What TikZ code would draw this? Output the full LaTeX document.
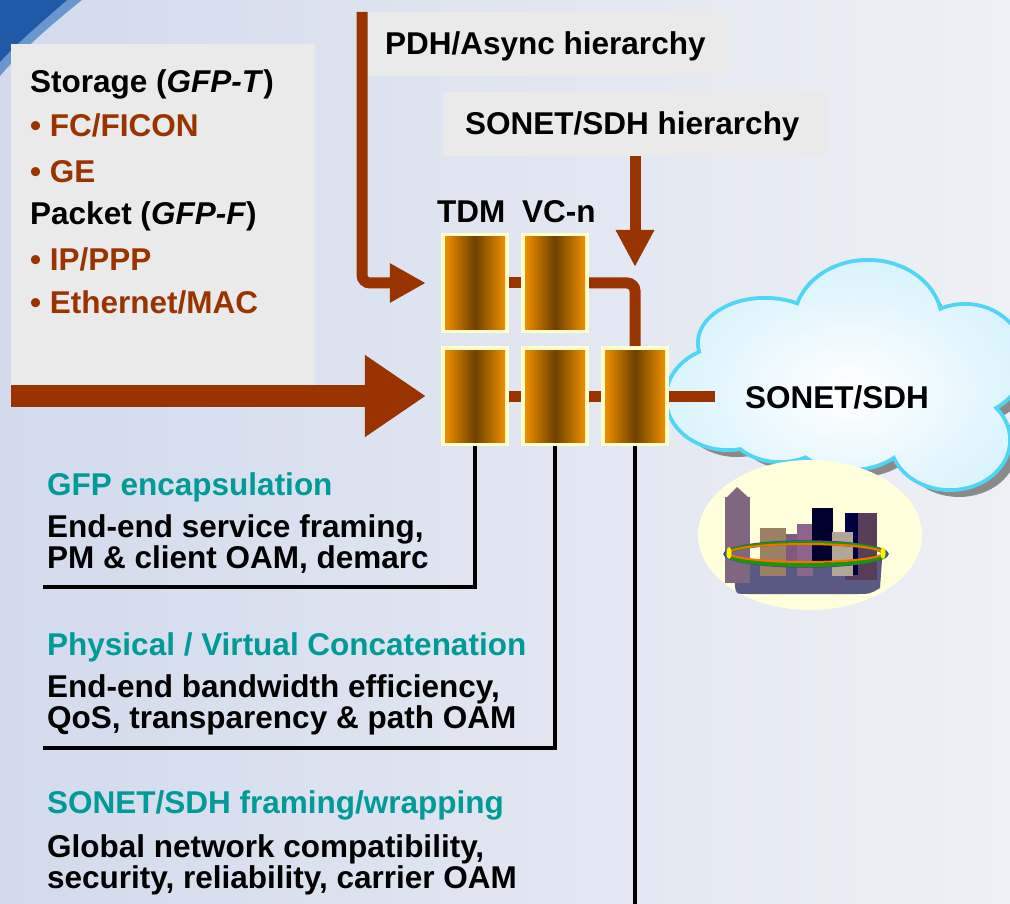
\documentclass[tikz,border=0pt]{standalone}
\usepackage{fontspec}
\setmainfont{Liberation Sans}
\usetikzlibrary{arrows.meta}

\definecolor{rust}{HTML}{993300}
\definecolor{teal}{HTML}{009B96}
\definecolor{panelgrey}{HTML}{EAEAEA}
\definecolor{bgL}{HTML}{D2DAEC}
\definecolor{bgR}{HTML}{EEF0F5}
\definecolor{rim}{HTML}{FFFFCC}
\definecolor{amber}{HTML}{FF9900}
\definecolor{umber}{HTML}{6E4200}
\definecolor{cloudedge}{HTML}{4FD6F6}
\definecolor{cloudfill}{HTML}{D3F1FC}
\definecolor{cloudshadow}{HTML}{8A8A8A}
\definecolor{halo}{HTML}{FFFFDC}
\definecolor{swoopdark}{HTML}{1E5AA5}
\definecolor{swooplight}{HTML}{6A96CF}

\newcommand\lblfont{\fontsize{31.5}{36}\selectfont\bfseries}

\tikzset{
  lbl/.style={font=\lblfont, inner sep=0pt, anchor=base west},
  panel/.style={fill=panelgrey, draw=none, inner sep=0pt},
  pipe/.style={draw=rust, line width=11pt},
  wire/.style={draw=black, line width=4pt},
  procbox/.style={minimum width=68pt, minimum height=100pt, inner sep=0pt, fill=rim,
    path picture={\shade[left color=amber, right color=amber, middle color=umber]
      ([shift={(4pt,4pt)}]path picture bounding box.south west) rectangle
      ([shift={(-4pt,-4pt)}]path picture bounding box.north east);}},
}

\begin{document}
\begin{tikzpicture}[x=1pt,y=-1pt]
\useasboundingbox (0,0) rectangle (1010,904);

% backdrop and corner swoosh
\shade[left color=bgL, right color=bgR] (0,0) rectangle (1010,904);
\fill[swooplight] (0,0) -- (82,0) .. controls (52,24) and (22,50) .. (0,76) -- cycle;
\fill[swoopdark] (0,0) -- (67,0) .. controls (42,22) and (18,42) .. (0,62) -- cycle;

% grey panels
\node[panel, minimum width=304pt, minimum height=341pt] (clients) at (163,214.5) {};
\node[panel, minimum width=374pt, minimum height=64pt] (pdhpanel) at (544,44) {};
\node[panel, minimum width=384pt, minimum height=64pt] (sdhpanel) at (635,124) {};

% client list
\node[lbl] (storage) at (30,93) {Storage (\textit{GFP-T})};
\node[lbl, text=rust] (fc) at (30,137) {\textbullet\ FC/FICON};
\node[lbl, text=rust] (ge) at (30,183) {\textbullet\ GE};
\node[lbl] (packet) at (30,225) {Packet (\textit{GFP-F})};
\node[lbl, text=rust] (ip) at (30,271) {\textbullet\ IP/PPP};
\node[lbl, text=rust] (eth) at (30,313) {\textbullet\ Ethernet/MAC};

\node[lbl] (pdh) at (385,55) {PDH/Async hierarchy};
\node[lbl] (sdhhier) at (465,135) {SONET/SDH hierarchy};

% cloud: shadow, rim, body
\def\lobes{728/398/60/50, 765/343/65/43, 868/322/72/60, 965/360/58/54,
  950/440/58/48, 850/428/60/40, 780/425/50/35, 850/385/90/70}
\foreach \cx/\cy/\rx/\ry in \lobes
  \fill[cloudshadow] (\cx+9,\cy+9) ellipse [x radius=\rx, y radius=\ry];
\foreach \cx/\cy/\rx/\ry in \lobes
  \draw[cloudedge, line width=8pt] (\cx,\cy) ellipse [x radius=\rx, y radius=\ry];
\foreach \cx/\cy/\rx/\ry in \lobes
  \fill[cloudfill] (\cx,\cy) ellipse [x radius=\rx, y radius=\ry];
\begin{scope}
  \clip \foreach \cx/\cy/\rx/\ry in \lobes { (\cx,\cy) ellipse [x radius=\rx, y radius=\ry] };
  \shade[inner color=white, outer color=cloudfill] (850,392) ellipse [x radius=215, y radius=150];
\end{scope}
\node[lbl] (net) at (745,408) {SONET/SDH};

% city in its halo
\fill[halo] (810,535) ellipse [x radius=112, y radius=75];
\fill[color=black!45!blue!30!gray] (733,560) -- (882,560) -- (880,588)
  .. controls (870,594) .. (855,594) -- (748,594) .. controls (736,594) .. (735,586) -- cycle;
\fill[color=gray!80!violet] (725,497) rectangle (750,583);
\fill[color=gray!80!violet] (727,497) -- (737,487) -- (748,497) -- cycle;
\fill[color=gray!60!black!80!violet] (845,513) rectangle (877,580);
\fill[color=black!75!blue] (845,513) rectangle (858,575);
\fill[color=brown!45!gray] (760,528) rectangle (786,576);
\fill[color=gray!70!violet] (786,534) rectangle (798,566);
\fill[color=gray!65!violet!90!white] (797,524) rectangle (813,576);
\fill[color=black!82!blue] (812,508) rectangle (833,566);
\fill[color=brown!30!gray!70!white] (832,532) rectangle (853,576);
\draw[color=blue!50!gray, line width=1.5pt] (806,554) ellipse [x radius=82, y radius=13];
\draw[color=green!55!black!90!yellow, line width=4pt] (806,554) ellipse [x radius=79, y radius=11];
\draw[color=orange!85!red, line width=2pt] (806,553) ellipse [x radius=77, y radius=9];
\fill[yellow] (729,553) ellipse [x radius=2.5, y radius=6];
\fill[yellow] (883,553) ellipse [x radius=2.5, y radius=6];

% multiplexing stages
\node[lbl] (tdmlbl) at (437,223) {TDM};
\node[lbl] (vclbl) at (522,223) {VC-n};
\node[procbox] (tdmA) at (475,283) {};
\node[procbox] (vcA) at (555,283) {};
\node[procbox] (tdmB) at (475,396) {};
\node[procbox] (vcB) at (555,396) {};
\node[procbox] (sdhB) at (635,396) {};

\coordinate (pdhtop) at (362,12);
\coordinate (feed) at (11,396);
\coordinate (sdhdrop) at (635,267);
\coordinate (cloudin) at (715,396);
\coordinate (gfpend) at (43,587);
\coordinate (vcatend) at (43,748);
\coordinate (frameend) at (635,904);

% brown data paths
\draw[pipe, rounded corners=8pt, -{Triangle[length=36pt,width=37pt]}]
  (pdhtop) |- ([xshift=-15pt]tdmA.west);
\draw[pipe, line width=22pt, -{Triangle[length=61pt,width=78pt]}]
  (feed) -- ([xshift=-15pt]tdmB.west);
\draw[pipe, -{Triangle[length=37pt,width=36pt]}] (sdhpanel.south) -- (sdhdrop);
\draw[pipe] (tdmA.east) -- (vcA.west);
\draw[pipe, rounded corners=8pt] (vcA.east) -| (sdhB.north);
\draw[pipe] (tdmB.east) -- (vcB.west);
\draw[pipe] (vcB.east) -- (sdhB.west);
\draw[pipe] (sdhB.east) -- (cloudin);

% leader lines to the function notes
\draw[wire] (tdmB.south) |- (gfpend);
\draw[wire] (vcB.south) |- (vcatend);
\draw[wire] (sdhB.south) -- (frameend);

% function notes
\node[lbl, text=teal] (gfp) at (47,495) {GFP encapsulation};
\node[lbl] (gfpa) at (47,537) {End-end service framing,};
\node[lbl] (gfpb) at (47,568) {PM \& client OAM, demarc};
\node[lbl, text=teal] (vcat) at (47,655) {Physical / Virtual Concatenation};
\node[lbl] (vcata) at (47,697) {End-end bandwidth efficiency,};
\node[lbl] (vcatb) at (47,728) {QoS, transparency \& path OAM};
\node[lbl, text=teal] (frame) at (47,813) {SONET/SDH framing/wrapping};
\node[lbl] (framea) at (47,857) {Global network compatibility,};
\node[lbl] (frameb) at (47,888) {security, reliability, carrier OAM};
\end{tikzpicture}
\end{document}
